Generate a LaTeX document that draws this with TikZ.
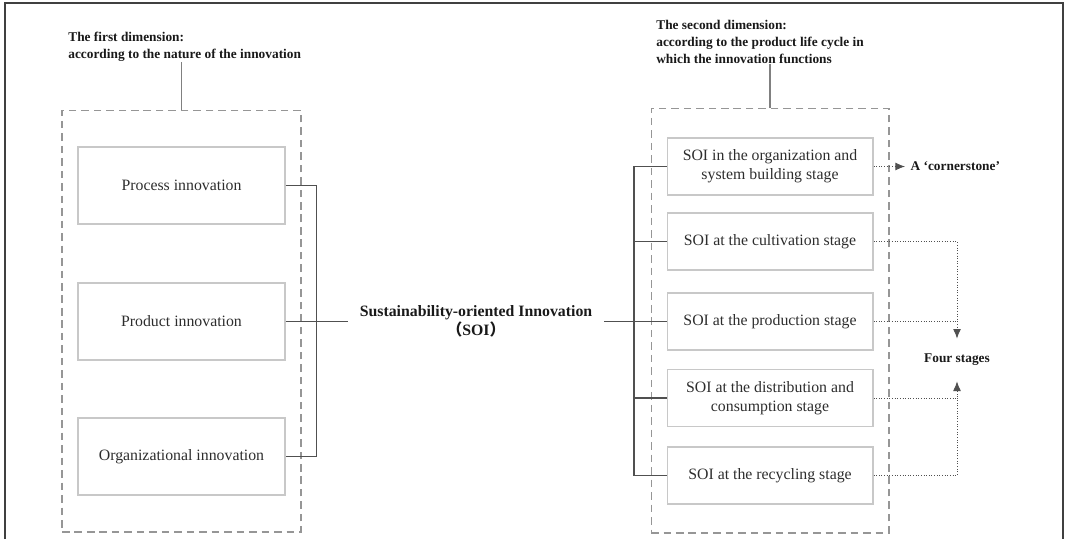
\documentclass[tikz,border=0pt]{standalone}
\usepackage{fontspec}
\setmainfont{Liberation Serif}
\newfontfamily\cjk{Noto Sans CJK SC}
\definecolor{soitext}{RGB}{45,45,45}
\definecolor{soiline}{RGB}{80,80,80}
\definecolor{soibox}{RGB}{200,200,200}
\definecolor{soidash}{RGB}{150,150,150}
\definecolor{soistem}{RGB}{128,128,128}
\usetikzlibrary{arrows.meta,positioning}

\begin{document}
\begin{tikzpicture}[x=0.02cm,y=-0.02cm,
    every node/.style={font=\fontsize{9}{11}\selectfont,text=soitext},
    kind/.style={draw=soibox,line width=0.6pt,minimum width=4.14cm,
                 minimum height=1.54cm,align=center},
    stage/.style={draw=soibox,line width=0.6pt,minimum width=4.12cm,
                  minimum height=1.14cm,align=center},
    dimbox/.style={draw=soidash,line width=0.6pt,dash pattern=on 4.3pt off 2.8pt},
    headtxt/.style={font=\fontsize{7.6}{9.7}\selectfont\bfseries,text=black!90,
                    align=left,inner sep=0pt},
    link/.style={draw=soiline,line width=0.6pt},
    stem/.style={draw=soistem,line width=0.9pt},
    hint/.style={draw=soiline,line width=0.5pt,densely dotted},
    tipped/.style={-{Latex[length=5.5pt,width=4.5pt]}}]

  \useasboundingbox (0,0) rectangle (1065,539);
  \draw[line width=0.9pt,draw=black!75] (5,539) -- (5,3) -- (1063,3) -- (1063,539);

  %% Dimension frames
  \node[dimbox,minimum width=4.78cm,minimum height=8.44cm] (first) at (181.5,321) {};
  \node[dimbox,minimum width=4.76cm,minimum height=8.5cm] (second) at (770,320.5) {};

  \node[headtxt,anchor=west] (firsthead) at (68,46.5)
       {The first dimension:\\according to the nature of the innovation};
  \node[headtxt,anchor=west] (secondhead) at (656,41.5)
       {The second dimension:\\according to the product life cycle in\\which the innovation functions};

  \draw[stem] (first.north) -- (first.north |- firsthead.south);
  \draw[stem] (second.north) -- (second.north |- secondhead.south);

  %% First dimension
  \node[kind] (process) at (181.5,185.5) {Process innovation};
  \node[kind] (product) at (181.5,321.5) {Product innovation};
  \node[kind] (organiz) at (181.5,456.5) {Organizational innovation};

  %% Centre
  \node[font=\fontsize{9}{10.8}\selectfont\bfseries,text=black!90,align=center,
        inner xsep=0.23cm] (soi) at (476,321.5)
       {Sustainability-oriented Innovation\\{\cjk （}SOI{\cjk ）}};

  %% Second dimension
  \node[stage] (build)  at (770,166.5) {SOI in the organization and\\system building stage};
  \node[stage] (cultiv) at (770,241.5) {SOI at the cultivation stage};
  \node[stage] (produc) at (770,321.5) {SOI at the production stage};
  \node[stage] (distri) at (770,398)   {SOI at the distribution and\\consumption stage};
  \node[stage] (recyc)  at (770,475.5) {SOI at the recycling stage};

  %% Outcomes
  \node[headtxt,anchor=west,inner xsep=3pt] (corner) at (905,166.5) {A ‘cornerstone’};
  \node[headtxt,align=center,minimum height=0.84cm] (four) at (957,360) {Four stages};

  %% Junctions
  \coordinate (lbar) at (316.7,321.5);
  \coordinate (rbar) at (634,321.5);

  %% Connectors
  \draw[link] (process.east) -| (lbar) |- (organiz.east);
  \draw[link] (product.east) -- (soi.west);
  \draw[link] (soi.east) -- (produc.west);
  \draw[link] (build.west) -| (rbar) |- (recyc.west);
  \draw[link] (cultiv.west) -- (cultiv.west -| rbar);
  \draw[link] (distri.west) -- (distri.west -| rbar);

  \draw[hint,tipped] (build.east) -- (corner.west);
  \draw[hint,tipped] (cultiv.east) -| (four.north);
  \draw[hint] (produc.east) -- (produc.east -| four);
  \draw[hint,tipped] (distri.east) -| (four.south);
  \draw[hint] (recyc.east) -| (distri.east -| four);
\end{tikzpicture}
\end{document}
